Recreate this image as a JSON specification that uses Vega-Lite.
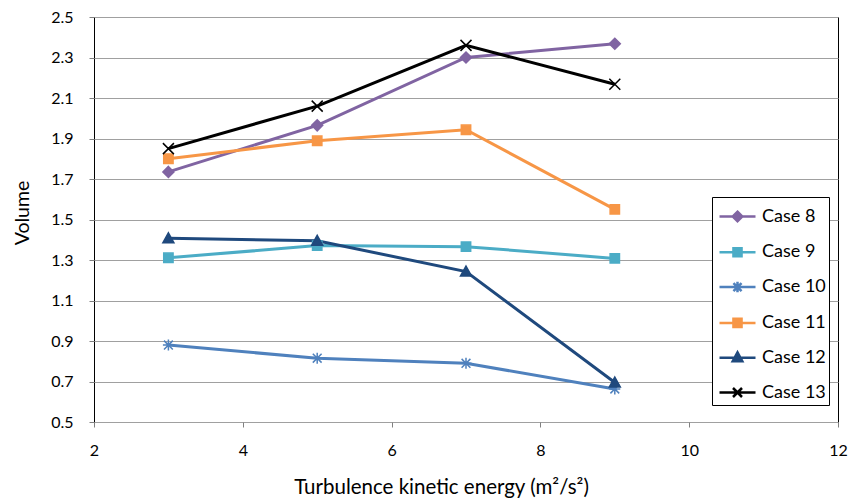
{
  "$schema": "https://vega.github.io/schema/vega-lite/v6.json",
  "width": 744,
  "height": 405,
  "autosize": {"type": "none"},
  "padding": {"left": 94, "top": 17, "right": 11, "bottom": 79},
  "background": "white",
  "config": {
    "font": "Lato",
    "view": {"stroke": "#000000", "strokeWidth": 1}
  },
  "data": {
    "values": [
      {"tke": 3, "volume": 1.735, "series": "Case 8"},
      {"tke": 5, "volume": 1.965, "series": "Case 8"},
      {"tke": 7, "volume": 2.300, "series": "Case 8"},
      {"tke": 9, "volume": 2.368, "series": "Case 8"},
      {"tke": 3, "volume": 1.311, "series": "Case 9"},
      {"tke": 5, "volume": 1.371, "series": "Case 9"},
      {"tke": 7, "volume": 1.366, "series": "Case 9"},
      {"tke": 9, "volume": 1.308, "series": "Case 9"},
      {"tke": 3, "volume": 0.880, "series": "Case 10"},
      {"tke": 5, "volume": 0.815, "series": "Case 10"},
      {"tke": 7, "volume": 0.790, "series": "Case 10"},
      {"tke": 9, "volume": 0.663, "series": "Case 10"},
      {"tke": 3, "volume": 1.800, "series": "Case 11"},
      {"tke": 5, "volume": 1.889, "series": "Case 11"},
      {"tke": 7, "volume": 1.943, "series": "Case 11"},
      {"tke": 9, "volume": 1.550, "series": "Case 11"},
      {"tke": 3, "volume": 1.407, "series": "Case 12"},
      {"tke": 5, "volume": 1.395, "series": "Case 12"},
      {"tke": 7, "volume": 1.243, "series": "Case 12"},
      {"tke": 9, "volume": 0.695, "series": "Case 12"},
      {"tke": 3, "volume": 1.850, "series": "Case 13"},
      {"tke": 5, "volume": 2.060, "series": "Case 13"},
      {"tke": 7, "volume": 2.360, "series": "Case 13"},
      {"tke": 9, "volume": 2.168, "series": "Case 13"}
    ]
  },
  "encoding": {
    "x": {
      "field": "tke",
      "type": "quantitative",
      "scale": {"domain": [2, 12], "nice": false, "zero": false},
      "axis": {
        "title": "Turbulence kinetic energy (m²/s²)",
        "values": [2, 4, 6, 8, 10, 12],
        "format": "d",
        "grid": false,
        "domain": false,
        "tickSize": 5,
        "tickColor": "#808080",
        "labelFontSize": 16,
        "labelColor": "#000000",
        "labelPadding": 15,
        "labelFlush": false,
        "titleFontSize": 20.5,
        "titleFontWeight": "normal",
        "titleColor": "#000000",
        "titlePadding": 19,
        "titleX": 347,
        "titleAlign": "center"
      }
    },
    "y": {
      "field": "volume",
      "type": "quantitative",
      "scale": {"domain": [0.5, 2.5], "nice": false, "zero": false},
      "axis": {
        "title": "Volume",
        "values": [0.5, 0.7, 0.9, 1.1, 1.3, 1.5, 1.7, 1.9, 2.1, 2.3, 2.5],
        "format": ".1f",
        "grid": true,
        "gridColor": "#a0a0a0",
        "gridWidth": 1,
        "domain": false,
        "tickSize": 5,
        "tickColor": "#808080",
        "labelFontSize": 16,
        "labelColor": "#000000",
        "labelPadding": 16,
        "labelFlush": false,
        "titleFontSize": 19.5,
        "titleFontWeight": "normal",
        "titleColor": "#000000",
        "titlePadding": 18,
        "titleY": 195.5,
        "titleAlign": "center"
      }
    },
    "color": {
      "field": "series",
      "type": "nominal",
      "scale": {
        "domain": ["Case 8", "Case 9", "Case 10", "Case 11", "Case 12", "Case 13"],
        "range": ["#8064A2", "#4BACC6", "#4F81BD", "#F79646", "#1F497D", "#000000"]
      },
      "legend": {
        "title": null,
        "orient": "none",
        "legendX": 618,
        "legendY": 180,
        "fillColor": "#ffffff",
        "strokeColor": "#000000",
        "padding": 3,
        "symbolSize": 900,
        "symbolOffset": 6,
        "symbolStrokeWidth": 2.5,
        "labelOffset": 8,
        "labelFontSize": 18,
        "labelColor": "#000000",
        "labelLimit": 200,
        "rowPadding": 8.8,
        "encode": {
          "symbols": {
            "update": {
              "fill": {"scale": "color", "field": "value"},
              "stroke": {"scale": "color", "field": "value"},
              "strokeWidth": {"value": 2.5},
              "opacity": {"value": 1},
              "fillOpacity": {"value": 1},
              "shape": {
                "signal": "datum.value === 'Case 8' ? 'M-1.2,0H1.2M0,-0.32L0.32,0L0,0.32L-0.32,0Z' : datum.value === 'Case 9' ? 'M-1.2,0H1.2M-0.27,-0.27H0.27V0.27H-0.27Z' : datum.value === 'Case 10' ? 'M-1.2,0H1.2M0,-0.35V0.35M-0.27,-0.27L0.27,0.27M-0.27,0.27L0.27,-0.27' : datum.value === 'Case 11' ? 'M-1.2,0H1.2M-0.27,-0.27H0.27V0.27H-0.27Z' : datum.value === 'Case 12' ? 'M-1.2,0H1.2M0,-0.35L0.32,0.24L-0.32,0.24Z' : 'M-1.2,0H1.2M-0.3,-0.3L0.3,0.3M-0.3,0.3L0.3,-0.3'"
              }
            }
          }
        }
      }
    }
  },
  "layer": [
    {
      "mark": {"type": "line", "strokeWidth": 3}
    },
    {
      "transform": [{"filter": "datum.series === 'Case 8'"}],
      "mark": {"type": "point", "shape": "M0,-1L1,0L0,1L-1,0Z", "filled": true, "size": 121, "strokeWidth": 1.5, "opacity": 1, "stroke": "#8064A2"}
    },
    {
      "transform": [{"filter": "datum.series === 'Case 9'"}],
      "mark": {"type": "point", "shape": "M-0.85,-0.85H0.85V0.85H-0.85Z", "filled": true, "size": 121, "strokeWidth": 1.5, "opacity": 1, "stroke": "#4BACC6"}
    },
    {
      "transform": [{"filter": "datum.series === 'Case 10'"}],
      "mark": {"type": "point", "shape": "M0,-1V1M-0.8,-0.8L0.8,0.8M-0.8,0.8L0.8,-0.8M-1,0H1", "filled": true, "size": 121, "strokeWidth": 1.5, "opacity": 1, "stroke": "#4F81BD"}
    },
    {
      "transform": [{"filter": "datum.series === 'Case 11'"}],
      "mark": {"type": "point", "shape": "M-0.85,-0.85H0.85V0.85H-0.85Z", "filled": true, "size": 121, "strokeWidth": 1.5, "opacity": 1, "stroke": "#F79646"}
    },
    {
      "transform": [{"filter": "datum.series === 'Case 12'"}],
      "mark": {"type": "point", "shape": "M0,-1L1,0.8L-1,0.8Z", "filled": true, "size": 121, "strokeWidth": 1.5, "opacity": 1, "stroke": "#1F497D"}
    },
    {
      "transform": [{"filter": "datum.series === 'Case 13'"}],
      "mark": {"type": "point", "shape": "M-1,-1L1,1M-1,1L1,-1", "filled": true, "size": 121, "strokeWidth": 1.5, "opacity": 1, "stroke": "#000000"}
    }
  ]
}
